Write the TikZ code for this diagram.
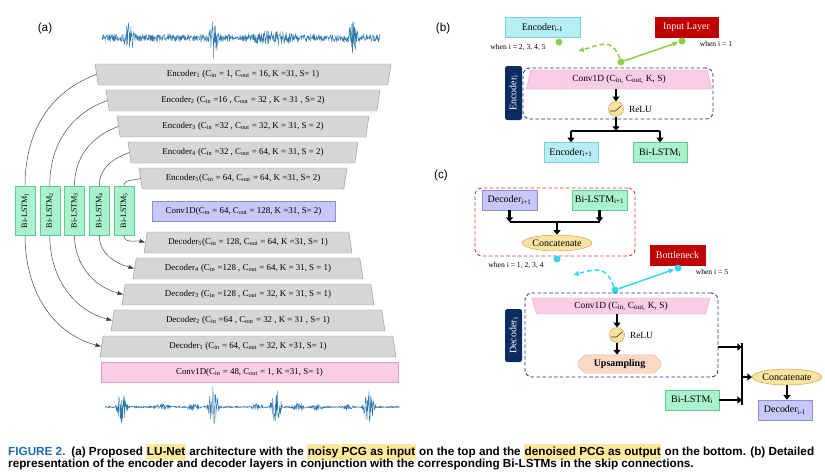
\documentclass[tikz,border=0pt]{standalone}
\usepackage{fontspec}
\setmainfont{Liberation Serif}
\newfontfamily\labfont{Liberation Sans}
\newfontfamily\capfont{Liberation Sans}
\usetikzlibrary{arrows.meta,positioning,shapes.geometric,shapes.misc}

\definecolor{layfill}{HTML}{D6D6D6}
\definecolor{layline}{HTML}{9A9A9A}
\definecolor{lstmfill}{HTML}{A9F2CC}
\definecolor{lstmline}{HTML}{5FC99A}
\definecolor{lavfill}{HTML}{C7C8F7}
\definecolor{lavline}{HTML}{8C90DA}
\definecolor{pinkfill}{HTML}{F9CDE6}
\definecolor{pinkline}{HTML}{E29BC6}
\definecolor{cyanfill}{HTML}{B6EEF5}
\definecolor{cyanline}{HTML}{7BCFDC}
\definecolor{redfill}{HTML}{C00000}
\definecolor{tagnavy}{HTML}{0B2C5E}
\definecolor{dashblue}{HTML}{1F3A68}
\definecolor{reddash}{HTML}{E0302F}
\definecolor{relufill}{HTML}{FBE3A0}
\definecolor{reluline}{HTML}{C2A050}
\definecolor{upfill}{HTML}{FAD8C6}
\definecolor{upline}{HTML}{E3B49C}
\definecolor{wavec}{HTML}{2F78AE}
\definecolor{greendot}{HTML}{8ECF4D}
\definecolor{cyandot}{HTML}{38D6EE}
\definecolor{hl}{HTML}{FDE89B}
\definecolor{figblue}{HTML}{1B6DB3}

\begin{document}
\begin{tikzpicture}[
            x=0.03cm, y=0.03cm,
            layer/.style={
                trapezium,
                trapezium stretches body,
                draw=layline,
                fill=layfill,
                inner sep=1pt,
                minimum height=21*\pu,
                font=\fontsize{7.6}{9}\selectfont
            },
            enclayer/.style={
                layer,
                trapezium angle=107
            },
            declayer/.style={
                layer,
                trapezium angle=73
            },
            flatlayer/.style={
                draw,
                inner sep=1pt,
                minimum height=20*\pu,
                font=\fontsize{7.6}{9}\selectfont
            },
            bilstm/.style={
                draw=lstmline,
                fill=lstmfill,
                inner sep=0pt,
                minimum width=20*\pu,
                minimum height=49*\pu,
                font=\fontsize{7}{8}\selectfont
            },
            skip/.style={
                draw=black!75,
                line width=0.4pt
            },
            skiparr/.style={
                skip,
                -{Latex[length=5pt,width=3.5pt]}
            },
            wave/.style={
                wavec,
                line width=0.35pt
            },
            box/.style={
                draw,
                inner sep=1pt,
                minimum height=20*\pu,
                font=\fontsize{8.5}{10}\selectfont
            },
            redbox/.style={
                box,
                draw=redfill,
                fill=redfill,
                text=white
            },
            dbox/.style={
                draw=dashblue,
                dash pattern=on 3pt off 2pt,
                line width=0.7pt,
                rounded corners=6pt
            },
            tagbox/.style={
                fill=tagnavy,
                text=white,
                rounded corners=2pt,
                inner sep=0pt,
                minimum width=17*\pu,
                font=\fontsize{8.5}{10}\selectfont
            },
            convbox/.style={
                trapezium,
                trapezium stretches body,
                draw=pinkline,
                fill=pinkfill,
                inner sep=0.5pt,
                font=\fontsize{8}{9}\selectfont
            },
            relu/.style={
                circle,
                draw=reluline,
                fill=relufill,
                minimum size=15*\pu,
                inner sep=0pt,
                path picture={
                    \draw[black!80, line width=0.5pt]
                    ([shift={(-6,-2)}]path picture bounding box.center) -- ++(5.5,0) -- ++(5.5,5);
                }
            },
            small/.style={
                font=\fontsize{6.5}{8}\selectfont
            },
            fat/.style={
                line width=1.8pt,
                -{Triangle[length=4pt,width=6pt]}
            },
            bar/.style={
                line width=1.8pt
            },
            gdot/.style={
                circle,
                fill=greendot,
                minimum size=7*\pu,
                inner sep=0pt
            },
            cdot/.style={
                gdot,
                fill=cyandot
            },
            garrow/.style={
                draw=greendot,
                line width=1.3pt,
                -{Latex[length=5pt,width=5pt]}
            },
            carrow/.style={
                garrow,
                draw=cyandot
            },
            plabel/.style={
                font=\labfont\fontsize{10}{12}\selectfont
            }
        ]

% Parameters
            \def\pu{0.03cm}
            \def\tri#1#2{max(0,1-abs(\x-#1)/#2)}
            \def\hlt#1{{\setlength{\fboxsep}{0.6pt}\colorbox{hl}{\strut #1}}}

            \useasboundingbox (0,0) rectangle (825,-475);

% --- (a) LU-Net ---
            \node[plabel] (la) at (45,-28) {(a)};

% noisy input
            \pgfmathsetseed{7}
            \draw[wave] plot[domain=102:380, samples=800]
            (\x, {-38 + (3.5 + 16*\tri{129}{6} + 18*\tri{214}{6} + 16*\tri{353}{6}
                        + 4.5*\tri{272}{28} - 2*\tri{237}{8})*rand});

% Encoders
            \foreach \i/\lab in {
                1/{Encoder\textsubscript{1} (C\textsubscript{in} = 1, C\textsubscript{out} = 16, K =31, S= 1)},
                2/{Encoder\textsubscript{2} (C\textsubscript{in} =16 , C\textsubscript{out} = 32 , K = 31 , S= 2)},
                3/{Encoder\textsubscript{3} (C\textsubscript{in} =32 , C\textsubscript{out} = 32, K = 31, S = 2)},
                4/{Encoder\textsubscript{4} (C\textsubscript{in} =32 , C\textsubscript{out} = 64, K = 31, S = 2)},
                5/{Encoder\textsubscript{5}(C\textsubscript{in} = 64, C\textsubscript{out} = 64, K =31, S= 2)}} {
                \node[enclayer, minimum width={(296-(\i-1)*22)*\pu}] (enc\i) at (243, {-74.5-(\i-1)*26}) {\lab};
            }

% Bottleneck
            \node[flatlayer, draw=lavline, fill=lavfill, minimum width=183*\pu] (neck) at (243.5,-211)
            {Conv1D(C\textsubscript{in} = 64, C\textsubscript{out} = 128, K =31, S= 2)};

% Decoders
            \foreach \i/\lab in {
                1/{Decoder\textsubscript{1} (C\textsubscript{in} = 64, C\textsubscript{out} = 32, K =31, S= 1)},
                2/{Decoder\textsubscript{2} (C\textsubscript{in} =64 , C\textsubscript{out} = 32 , K = 31 , S= 1)},
                3/{Decoder\textsubscript{3} (C\textsubscript{in} =128 , C\textsubscript{out} = 32, K = 31, S = 1)},
                4/{Decoder\textsubscript{4} (C\textsubscript{in} =128 , C\textsubscript{out} = 64, K = 31, S = 1)},
                5/{Decoder\textsubscript{5}(C\textsubscript{in} = 128, C\textsubscript{out} = 64, K =31, S= 1)}} {
                \node[declayer, minimum width={(296-(\i-1)*22)*\pu}] (dec\i) at (248, {-346.5+(\i-1)*26}) {\lab};
            }

% Output layer
            \node[flatlayer, draw=pinkline, fill=pinkfill, minimum width=297*\pu] (outconv) at (249.5,-372)
            {Conv1D(C\textsubscript{in} = 48, C\textsubscript{out} = 1, K =31, S= 1)};

% denoised output
            \draw[wave] plot[domain=105:400, samples=900]
            (\x, {-407 + (0.8 + 19*\tri{122}{7} + 20*\tri{213}{7} + 20*\tri{276}{7} + 20*\tri{369}{7}
                        + 3*\tri{162}{9} + 3*\tri{193}{8} + 3*\tri{257}{8} + 3*\tri{298}{8}
                        + 3*\tri{317}{8} + 2*\tri{348}{6})*rand});

% Bi-LSTMs and skip connections
            \foreach \i in {1,...,5} {
                \node[bilstm] (bl\i) at ({25+(\i-1)*24.75}, -210.5) {\rotatebox{90}{Bi-LSTM\textsubscript{\i}}};
                \draw[skip] (bl\i.north) to[out=90, in=200] (enc\i.west);
                \draw[skiparr] (bl\i.south) to[out=-90, in=165] (dec\i.west);
            }

% --- (b) Encoder layer ---
            \node[plabel] (lb) at (443,-28) {(b)};

            \node[box, draw=cyanline, fill=cyanfill, minimum width=75*\pu] (encprev) at (542.5,-27.5) {Encoder\textsubscript{i-1}};
            \node[redbox, minimum width=63*\pu] (inlayer) at (686.5,-27) {Input Layer};
            \node[small] (wb1) at (518,-47) {when i = 2, 3, 4, 5};
            \node[small] (wb2) at (716,-44) {when i = 1};
            \node[gdot] (gd1) at (559,-42) {};
            \node[gdot] (gd2) at (682,-41) {};
            \node[gdot] (gd0) at (621,-62) {};
            \coordinate (gtip) at (578,-51);
            \draw[garrow, dash pattern=on 4pt off 2.5pt] (gd0) to[out=110, in=15, looseness=1.4] (gtip);
            \draw[garrow] (gd0) -- (gd2);

            \node[dbox, minimum width=190*\pu, minimum height=51*\pu] (encbox) at (618,-93.5) {};
            \node[tagbox, minimum height=54*\pu] (tagb) at (513.5,-93) {\rotatebox{90}{Encoder\textsubscript{i}}};
            \node[convbox, trapezium angle=67, minimum width=185*\pu, minimum height=19*\pu] (convb) at (619,-79.5)
            {Conv1D (C\textsubscript{in,} C\textsubscript{out,} K, S)};
            \node[relu] (relub) at (616,-109) {};
            \node[right=1pt of relub, font=\fontsize{8}{9}\selectfont] (relulb) {ReLU};

            \node[box, draw=cyanline, fill=cyanfill, minimum width=54*\pu] (encnext) at (571,-152.5) {Encoder\textsubscript{i+1}};
            \node[box, draw=lstmline, fill=lstmfill, minimum width=54*\pu] (bilb) at (660,-152.5) {Bi-LSTM\textsubscript{i}};

            \coordinate (splitb) at (616,-131);
            \draw[fat] (convb.south -| relub) -- (relub.north);
            \draw[fat] (relub.south) -- (splitb);
            \draw[bar] (encnext.north |- splitb) -- (bilb.north |- splitb);
            \draw[fat] (encnext.north |- splitb) -- (encnext.north);
            \draw[fat] (bilb.north |- splitb) -- (bilb.north);

% --- (c) Decoder layer ---
            \node[plabel] (lc) at (441,-175) {(c)};

            \node[dbox, draw=reddash, minimum width=160*\pu, minimum height=68*\pu] (catbox) at (555,-222) {};
            \node[box, draw=lavline, fill=lavfill, minimum width=55*\pu] (decnext) at (509.5,-200) {Decoder\textsubscript{i+1}};
            \node[box, draw=lstmline, fill=lstmfill, minimum width=55*\pu] (bilnext) at (599.5,-200) {Bi-LSTM\textsubscript{i+1}};
            \node[ellipse, draw=reluline, fill=relufill, minimum width=62*\pu, minimum height=16*\pu, inner sep=0pt,
                  font=\fontsize{8.5}{10}\selectfont] (cat1) at (557,-243) {Concatenate};
            \coordinate (catbar) at (557,-222);
            \draw[bar] (decnext.south |- catbar) -- (bilnext.south |- catbar);
            \draw[fat] (decnext.south) -- (decnext.south |- catbar);
            \draw[fat] (bilnext.south) -- (bilnext.south |- catbar);
            \draw[fat] (catbar) -- (cat1.north);

            \node[small] (wc1) at (516,-265) {when i = 1, 2, 3, 4};
            \node[redbox, minimum width=55*\pu] (neckc) at (677.5,-255) {Bottleneck};
            \node[small] (wc2) at (712,-272) {when i = 5};
            \node[cdot] (cd1) at (557,-259) {};
            \node[cdot] (cd2) at (678,-268) {};
            \node[cdot] (cd0) at (615,-290) {};
            \coordinate (ctip) at (573,-275);
            \draw[carrow, dash pattern=on 4pt off 2.5pt] (cd0) to[out=110, in=15, looseness=1.4] (ctip);
            \draw[carrow] (cd0) -- (cd2);

            \node[dbox, minimum width=193*\pu, minimum height=84*\pu] (decbox) at (621.5,-335) {};
            \node[tagbox, minimum height=53*\pu] (tagc) at (513.5,-335.5) {\rotatebox{90}{Decoder\textsubscript{i}}};
            \node[convbox, trapezium angle=115, minimum width=178*\pu, minimum height=16*\pu] (convc) at (621,-306)
            {Conv1D (C\textsubscript{in,} C\textsubscript{out,} K, S)};
            \node[relu] (reluc) at (617,-335) {};
            \node[right=1pt of reluc, font=\fontsize{8}{9}\selectfont] (reluclb) {ReLU};
            \node[chamfered rectangle, chamfered rectangle xsep=3pt, chamfered rectangle ysep=3pt,
                  draw=upline, fill=upfill, minimum width=83*\pu, minimum height=17*\pu, inner sep=1pt,
                  font=\bfseries\fontsize{8.5}{10}\selectfont] (upc) at (619.5,-364) {Upsampling};
            \draw[fat] (convc.south -| reluc) -- (reluc.north);
            \draw[fat] (reluc.south) -- (upc.north -| reluc);

            \node[box, draw=lstmline, fill=lstmfill, minimum width=54*\pu] (bilc) at (692,-400) {Bi-LSTM\textsubscript{i}};
            \node[ellipse, draw=reluline, fill=relufill, minimum width=64*\pu, minimum height=16*\pu, inner sep=0pt,
                  font=\fontsize{8.5}{10}\selectfont] (cat2) at (787,-377) {Concatenate};
            \node[box, draw=lavline, fill=lavfill, minimum width=54*\pu] (decprev) at (785,-410) {Decoder\textsubscript{i-1}};

            \coordinate (jtop) at (742,-343);
            \coordinate (jbot) at (742,-405);
            \coordinate (jin) at (742,-347);
            \draw[bar] (jtop) -- (jbot);
            \draw[fat] (decbox.east |- jin) -- (jin);
            \draw[fat] (bilc.east) -- (bilc.east -| jtop);
            \draw[fat] (cat2.west -| jtop) -- (cat2.west);
            \draw[fat] (cat2.south) -- (cat2.south |- decprev.north);

% Caption
            \node[anchor=base west, inner sep=0pt, font=\capfont\bfseries\fontsize{10}{12}\selectfont] (cap1) at (8,-455)
            {\textcolor{figblue}{FIGURE 2.}\enspace (a) Proposed \hlt{LU-Net} architecture with the \hlt{noisy PCG as input} on the top and the \hlt{denoised PCG as output} on the bottom. (b) Detailed};
            \node[anchor=base west, inner sep=0pt, font=\capfont\bfseries\fontsize{10}{12}\selectfont] (cap2) at (8,-467)
            {representation of the encoder and decoder layers in conjunction with the corresponding Bi-LSTMs in the skip connections.};

        \end{tikzpicture}
\end{document}
